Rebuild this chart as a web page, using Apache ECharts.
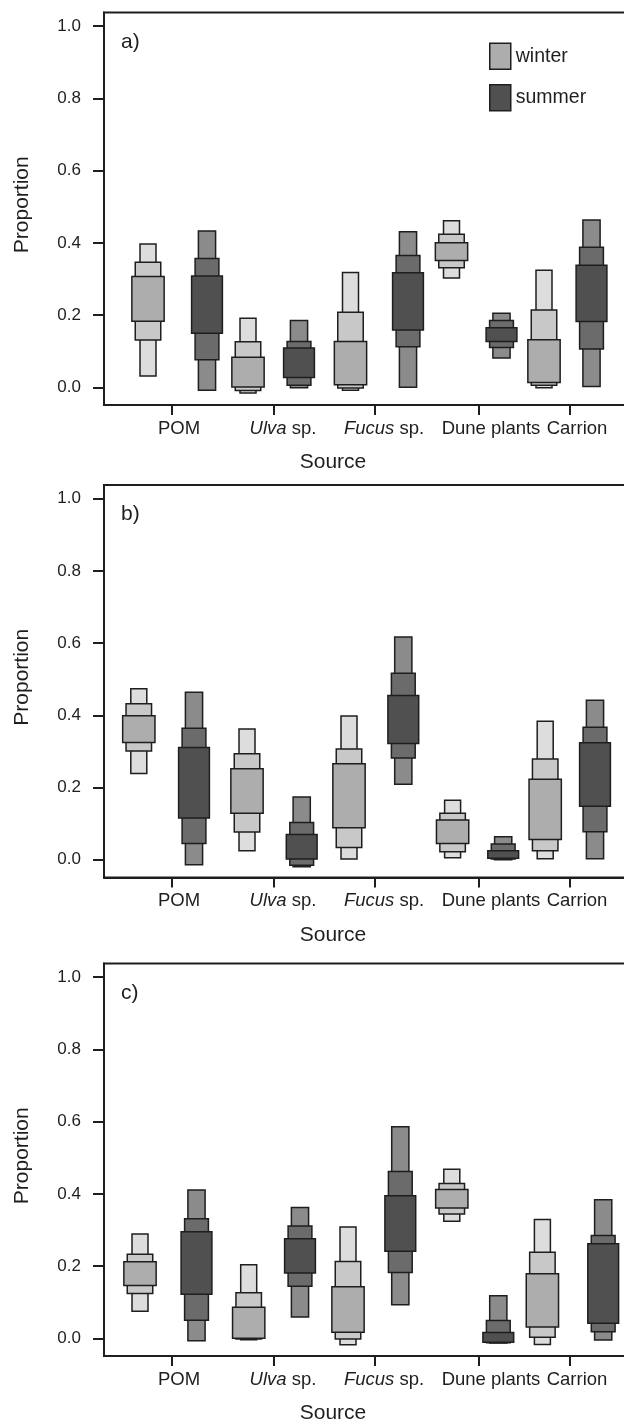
<!DOCTYPE html>
<html><head><meta charset="utf-8">
<script src="https://cdn.jsdelivr.net/npm/echarts@6/dist/echarts.min.js"></script>
<style>html,body{margin:0;padding:0;background:#fff}#chart{width:624px;height:1423px}</style>
</head><body><div id="chart"></div>
<script>
// ---------------- data ----------------
const sources = ['POM', 'Ulva sp.', 'Fucus sp.', 'Dune plants', 'Carrion'];
const seasons = ['winter', 'summer'];
const panelLetters = ['a)', 'b)', 'c)'];
const yTickValues = [0, 0.2, 0.4, 0.6, 0.8, 1.0];
const xAxisTitle = 'Source';
const yAxisTitle = 'Proportion';
// credible intervals per source: [lo95, lo75, lo50, hi50, hi75, hi95]
const panelA_winter = [
  [0.031, 0.131, 0.183, 0.307, 0.346, 0.397],
  [-0.016, -0.009, 0.001, 0.083, 0.126, 0.191],
  [-0.008, -0.002, 0.007, 0.127, 0.208, 0.318],
  [0.303, 0.331, 0.351, 0.400, 0.424, 0.461],
  [-0.001, 0.006, 0.013, 0.132, 0.214, 0.324]
];
const panelA_summer = [
  [-0.008, 0.076, 0.150, 0.308, 0.357, 0.433],
  [-0.001, 0.006, 0.027, 0.109, 0.127, 0.185],
  [0.000, 0.112, 0.159, 0.317, 0.365, 0.431],
  [0.081, 0.110, 0.127, 0.165, 0.185, 0.205],
  [0.002, 0.106, 0.182, 0.338, 0.388, 0.463]
];
const panelB_winter = [
  [0.239, 0.301, 0.325, 0.399, 0.432, 0.474],
  [0.025, 0.077, 0.129, 0.252, 0.294, 0.362],
  [0.002, 0.034, 0.089, 0.266, 0.307, 0.398],
  [0.006, 0.022, 0.045, 0.110, 0.129, 0.165],
  [0.003, 0.025, 0.056, 0.223, 0.279, 0.384]
];
const panelB_summer = [
  [-0.014, 0.045, 0.116, 0.311, 0.364, 0.464],
  [-0.019, -0.015, 0.002, 0.070, 0.103, 0.174],
  [0.209, 0.282, 0.322, 0.455, 0.517, 0.617],
  [0.000, 0.002, 0.004, 0.025, 0.044, 0.064],
  [0.003, 0.078, 0.148, 0.324, 0.367, 0.442]
];
const panelC_winter = [
  [0.075, 0.124, 0.146, 0.212, 0.233, 0.289],
  [-0.004, -0.002, 0.000, 0.086, 0.126, 0.204],
  [-0.018, -0.002, 0.017, 0.143, 0.213, 0.308],
  [0.324, 0.344, 0.361, 0.412, 0.429, 0.468],
  [-0.017, 0.003, 0.031, 0.179, 0.238, 0.329]
];
const panelC_summer = [
  [-0.007, 0.050, 0.122, 0.295, 0.331, 0.411],
  [0.059, 0.144, 0.181, 0.276, 0.311, 0.362],
  [0.093, 0.182, 0.241, 0.395, 0.462, 0.586],
  [-0.013, -0.012, -0.011, 0.016, 0.049, 0.118],
  [-0.005, 0.018, 0.042, 0.262, 0.285, 0.384]
];

// ---------------- layout (axis units on the x value axis) ----------------
const FONT = "'Liberation Sans', Arial, Helvetica, sans-serif";
const INK = '#1e1e1e';
const xTickAt = [0.975, 2.0, 3.005, 4.045, 4.955];
const xLabelAt = [1.05, 2.09, 3.1, 4.17, 5.03];
const boxX = [
  { winter: [0.74, 1.74, 2.765, 3.775, 4.70], summer: [1.33, 2.25, 3.34, 4.275, 5.175] },
  { winter: [0.648, 1.73, 2.75, 3.786, 4.712], summer: [1.20, 2.277, 3.293, 4.292, 5.21] },
  { winter: [0.66, 1.747, 2.74, 3.778, 4.684], summer: [1.225, 2.26, 3.263, 4.243, 5.292] }
];
const boxW = { winter: [0.16, 0.255, 0.323], summer: [0.172, 0.238, 0.308] };
const fills = {
  winter: ['#dddddd', '#c8c8c8', '#adadad'],
  summer: ['#8b8b8b', '#6b6b6b', '#505050']
};
const gridTops = [12.5, 485, 963.5];
const panelData = [
  { winter: panelA_winter, summer: panelA_summer },
  { winter: panelB_winter, summer: panelB_summer },
  { winter: panelC_winter, summer: panelC_summer }
];

const grids = [], xAxes = [], yAxes = [], series = [], titles = [];

function xLabelFmt(v) {
  const i = xLabelAt.findIndex(t => Math.abs(t - v) < 1e-6);
  if (i < 0) return '';
  const s = sources[i];
  if (s.endsWith(' sp.')) return '{it|' + s.slice(0, -4) + '} sp.';
  return s;
}

panelData.forEach((pd, p) => {
  grids.push({
    left: 104, top: gridTops[p], width: 540, height: 392.5,
    outerBoundsMode: 'none', containLabel: false,
    show: true, borderColor: INK, borderWidth: 2, backgroundColor: 'transparent'
  });
  xAxes.push({
    type: 'value', gridIndex: p, min: 0.3, max: 5.7, position: 'bottom',
    splitLine: { show: false },
    axisLine: { show: true, onZero: false, lineStyle: { color: INK, width: 2 } },
    axisTick: { show: true, customValues: xTickAt, length: 10, lineStyle: { color: INK, width: 2 } },
    axisLabel: {
      customValues: xLabelAt, formatter: xLabelFmt, margin: 14,
      color: INK, fontSize: 18.5, fontFamily: FONT,
      rich: { it: { fontStyle: 'italic', fontSize: 18.5, color: INK, fontFamily: FONT } }
    },
    name: xAxisTitle, nameLocation: 'middle', nameGap: 47,
    nameTextStyle: { color: INK, fontSize: 21, fontFamily: FONT, padding: [0, 82, 0, 0] }
  });
  yAxes.push({
    type: 'value', gridIndex: p, min: -0.049, max: 1.038, position: 'left',
    splitLine: { show: false },
    axisLine: { show: true, onZero: false, lineStyle: { color: INK, width: 2 } },
    axisTick: { show: true, customValues: yTickValues, length: 11, lineStyle: { color: INK, width: 2 } },
    axisLabel: {
      customValues: yTickValues, formatter: v => v.toFixed(1), margin: 23,
      color: INK, fontSize: 17, fontFamily: FONT
    },
    name: yAxisTitle, nameLocation: 'middle', nameGap: 71,
    nameTextStyle: { color: INK, fontSize: 21, fontFamily: FONT, padding: [0, 0, 0, 8] }
  });
  titles.push({
    text: panelLetters[p], left: 121, top: gridTops[p] + 19, padding: 0,
    textStyle: { color: INK, fontSize: 21, fontWeight: 'normal', fontFamily: FONT }
  });
  seasons.forEach(season => {
    const vals = pd[season];
    // levels: 0 = 95%, 1 = 75%, 2 = 50%  (drawn narrow-to-wide)
    [0, 1, 2].forEach(lv => {
      const data = vals.map((r, i) => [boxX[p][season][i], r[lv], r[5 - lv], boxW[season][lv]]);
      const fill = fills[season][lv];
      series.push({
        type: 'custom',
        name: lv === 2 ? season : season + ' ' + ['95%', '75%', '50%'][lv],
        xAxisIndex: p, yAxisIndex: p,
        itemStyle: { color: fill, borderColor: INK, borderWidth: 1.5 },
        dimensions: ['x', 'lo', 'hi', 'w'],
        encode: { x: 0, y: [1, 2] },
        data: data,
        renderItem: function (params, api) {
          const x = api.value(0), lo = api.value(1), hi = api.value(2), w = api.value(3);
          const a = api.coord([x - w / 2, hi]);
          const b = api.coord([x + w / 2, lo]);
          return {
            type: 'rect',
            shape: { x: a[0], y: a[1], width: b[0] - a[0], height: b[1] - a[1] },
            style: { fill: fill, stroke: INK, lineWidth: 1.5 }
          };
        }
      });
    });
  });
});

const chart = echarts.init(document.getElementById('chart'), null, { renderer: 'canvas' });
chart.setOption({
  animation: false,
  backgroundColor: '#ffffff',
  title: titles,
  legend: {
    data: seasons, orient: 'vertical', left: 489, top: 42.5, padding: 0,
    itemWidth: 21, itemHeight: 26, itemGap: 14, icon: 'rect',
    itemStyle: { borderColor: INK, borderWidth: 1.5 },
    textStyle: { color: INK, fontSize: 19.5, fontFamily: FONT },
    selectedMode: false
  },
  grid: grids,
  xAxis: xAxes,
  yAxis: yAxes,
  series: series
});
</script>
</body></html>
